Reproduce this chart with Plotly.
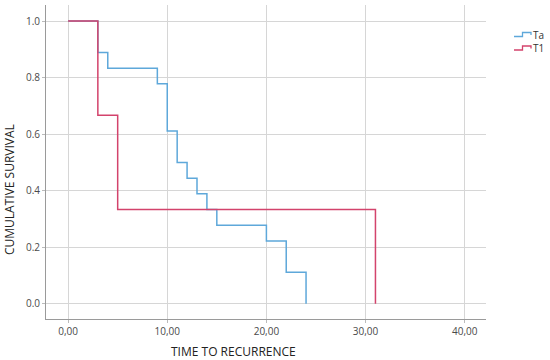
import plotly.graph_objects as go

# ---- data ----
ta_time = [0, 3, 4, 9, 10, 11, 12, 13, 14, 15, 20, 22, 24]
ta_surv = [1.0, 0.889, 0.833, 0.778, 0.611, 0.5, 0.444, 0.389, 0.333, 0.278, 0.222, 0.111, 0.0]
t1_time = [0, 3, 5, 31]
t1_surv = [1.0, 0.667, 0.333, 0.0]
x_ticks = [0, 10, 20, 30, 40]
x_ticktext = ["0,00", "10,00", "20,00", "30,00", "40,00"]
y_ticks = [0.0, 0.2, 0.4, 0.6, 0.8, 1.0]
y_ticktext = ["0.0", "0.2", "0.4", "0.6", "0.8", "1.0"]
series_names = ["Ta", "T1"]

BLUE = "#5ea8da"
RED = "#d3436c"

W, H = 550, 360
ML, MR, MT, MB = 46, 64, 5, 41

fig = go.Figure()
fig.add_trace(go.Scatter(x=ta_time, y=ta_surv, mode="lines", line=dict(color=BLUE, width=1.5, shape="hv"),
                         name=series_names[0], showlegend=False, hoverinfo="skip"))
fig.add_trace(go.Scatter(x=t1_time, y=t1_surv, mode="lines", line=dict(color=RED, width=1.5, shape="hv"),
                         name=series_names[1], showlegend=False, hoverinfo="skip"))

pw = W - ML - MR
ph = H - MT - MB
def px(x):
    return (x - ML) / pw
def py(y):
    return (H - MB - y) / ph

# custom step-shaped legend glyphs
shapes = []
annotations = []
for i, (name, col) in enumerate(zip(series_names, [BLUE, RED])):
    yb = 36.5 + i * 13.5
    yt = yb - 4
    path = f"M {px(514)},{py(yb)} L {px(522.5)},{py(yb)} L {px(522.5)},{py(yt)} L {px(531)},{py(yt)} L {px(531)},{py(yt+2.5)}"
    shapes.append(dict(type="path", path=path, xref="paper", yref="paper",
                       line=dict(color=col, width=1.3)))
    annotations.append(dict(text=name, x=px(532), y=py(yb - 2), xref="paper", yref="paper",
                            xanchor="left", yanchor="middle", showarrow=False, borderpad=0,
                            font=dict(family="Open Sans", size=10, color="#333333")))

annotations.append(dict(text="TIME TO RECURRENCE", x=px(233), y=py(351), xref="paper", yref="paper",
                        xanchor="center", yanchor="middle", showarrow=False,
                        font=dict(family="Open Sans", size=12, color="#222222")))
annotations.append(dict(text="CUMULATIVE SURVIVAL", x=px(9), y=py(190), xref="paper", yref="paper",
                        xanchor="center", yanchor="middle", showarrow=False, textangle=-90,
                        font=dict(family="Open Sans", size=12, color="#222222")))

fig.update_layout(
    width=W, height=H,
    margin=dict(l=ML, r=MR, t=MT, b=MB, autoexpand=False),
    paper_bgcolor="white", plot_bgcolor="white",
    showlegend=False, hovermode=False,
    shapes=shapes, annotations=annotations,
    xaxis=dict(range=[-2.23, 42.15], tickvals=x_ticks, ticktext=x_ticktext, automargin=False,
               showgrid=True, gridcolor="#d6d6d6", gridwidth=1, zeroline=False,
               showline=True, linecolor="#9a9a9a", linewidth=1,
               ticks="outside", ticklen=3, tickcolor="#bbbbbb",
               tickfont=dict(family="Open Sans", size=10, color="#4a4a4a")),
    yaxis=dict(range=[-0.054, 1.057], tickvals=y_ticks, ticktext=y_ticktext, automargin=False,
               showgrid=True, gridcolor="#d6d6d6", gridwidth=1, zeroline=False,
               showline=True, linecolor="#9a9a9a", linewidth=1,
               ticks="outside", ticklen=3, tickcolor="#bbbbbb",
               tickfont=dict(family="Open Sans", size=10, color="#4a4a4a")),
)

fig.write_html("out.html", config={"displayModeBar": False, "staticPlot": True},
               post_script="document.body.style.margin='0';")
